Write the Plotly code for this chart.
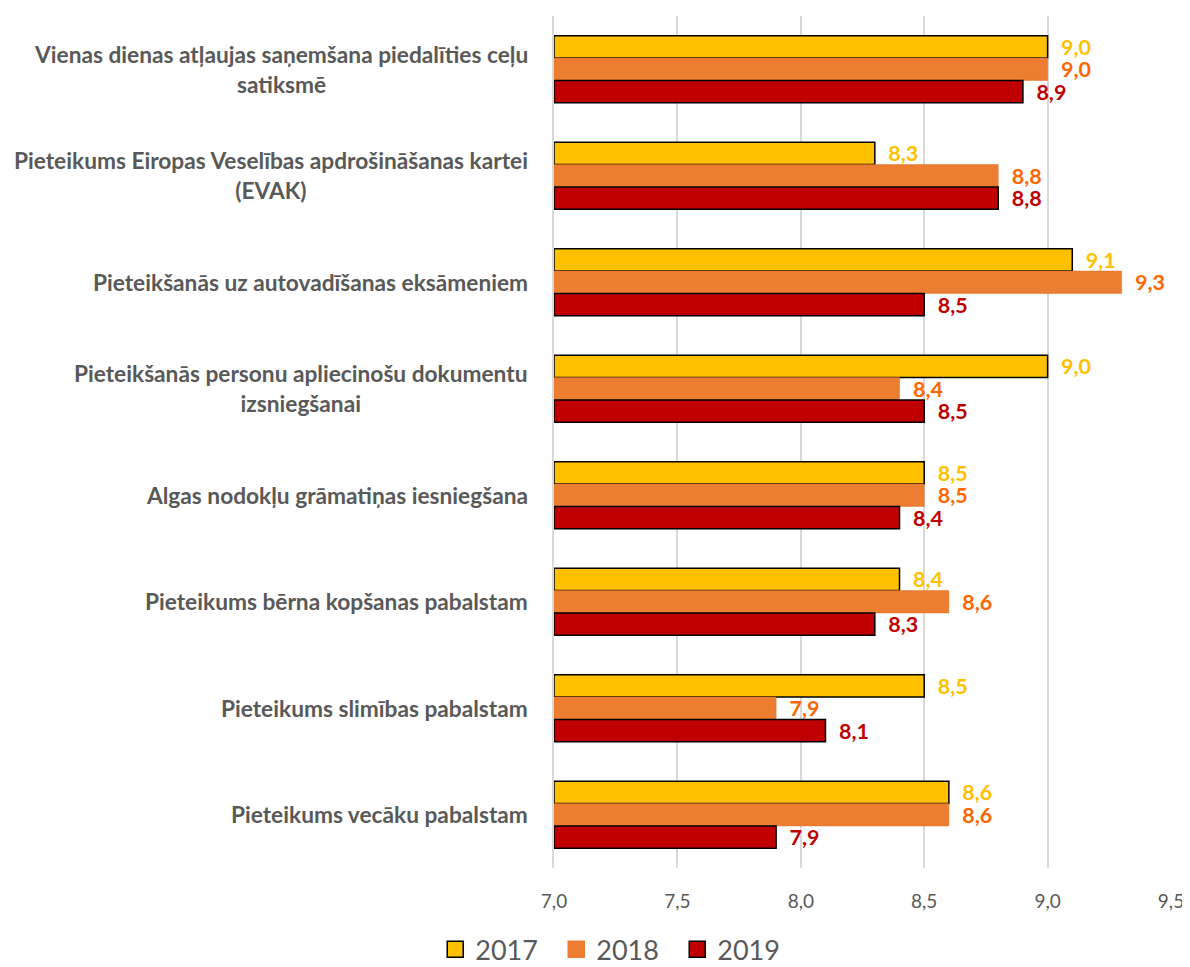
import plotly.graph_objects as go

categories = [
    "Vienas dienas atļaujas saņemšana piedalīties ceļu<br>satiksmē",
    "Pieteikums Eiropas Veselības apdrošināšanas kartei<br>(EVAK)",
    "Pieteikšanās uz autovadīšanas eksāmeniem",
    "Pieteikšanās personu apliecinošu dokumentu<br>izsniegšanai",
    "Algas nodokļu grāmatiņas iesniegšana",
    "Pieteikums bērna kopšanas pabalstam",
    "Pieteikums slimības pabalstam",
    "Pieteikums vecāku pabalstam",
]
keys = [f"c{i}" for i in range(len(categories))]

y2017 = [9.0, 8.3, 9.1, 9.0, 8.5, 8.4, 8.5, 8.6]
y2018 = [9.0, 8.8, 9.3, 8.4, 8.5, 8.6, 7.9, 8.6]
y2019 = [8.9, 8.8, 8.5, 8.5, 8.4, 8.3, 8.1, 7.9]

series = [
    ("2017", y2017, "#FFC000", "#FFC000", "#000000", 1.5),
    ("2018", y2018, "#ED7D31", "#FF6600", "#D9712B", 0.5),
    ("2019", y2019, "#C00000", "#C00000", "#000000", 1.5),
]

FONT = "Lato, Open Sans, sans-serif"

fig = go.Figure()
for name, vals, fill, tcol, lcol, lw in series:
    fig.add_trace(go.Bar(
        name=name, y=keys, x=[v - 7.0 for v in vals], base=7.0, orientation="h",
        marker=dict(color=fill, line=dict(color=lcol, width=lw)),
        customdata=vals, showlegend=False, legendgroup=name,
        texttemplate="\u00a0\u00a0%{customdata:.1f}", textposition="outside",
        textfont=dict(family=FONT, size=21.5, color=tcol, weight="bold"),
        constraintext="none", cliponaxis=False,
    ))

# legend-only entries with larger square swatches
for name, vals, fill, tcol, lcol, lw in series:
    fig.add_trace(go.Scatter(
        name=name, x=[None], y=[None], mode="markers", legendgroup=name,
        marker=dict(symbol="square", size=16, color=fill,
                    line=dict(color=lcol if lw > 1 else fill, width=1.5)),
    ))

for k, c in zip(keys, categories):
    fig.add_annotation(
        x=0, xref="paper", y=k, yref="y", xanchor="right", xshift=-24,
        text=f"<b>{c}</b>", showarrow=False, align="center",
        font=dict(family=FONT, size=22.7, color="#595959"),
    )

fig.update_layout(
    width=1182, height=959,
    margin=dict(l=546, r=19, t=8, b=99, autoexpand=False),
    barmode="group", bargap=0.37, bargroupgap=0,
    separators=", ",
    plot_bgcolor="white", paper_bgcolor="white",
    legend=dict(orientation="h", x=0.515, xref="container", xanchor="center",
                y=0.018, yref="container", yanchor="middle", entrywidth=76,
                itemsizing="trace",
                font=dict(family=FONT, size=27, color="#595959")),
    xaxis=dict(range=[7.0, 9.5], dtick=0.5, tick0=7.0, tickformat=".1f",
               showgrid=True, gridcolor="#D9D9D9", gridwidth=1.5,
               zeroline=False, showline=False, ticks="", ticklabelstandoff=20,
               tickfont=dict(family=FONT, size=19, color="#595959")),
    yaxis=dict(autorange="reversed", showticklabels=False, ticks="",
               showline=True, linecolor="#D9D9D9", linewidth=1.5, showgrid=False),
)

fig.write_html("out.html")
